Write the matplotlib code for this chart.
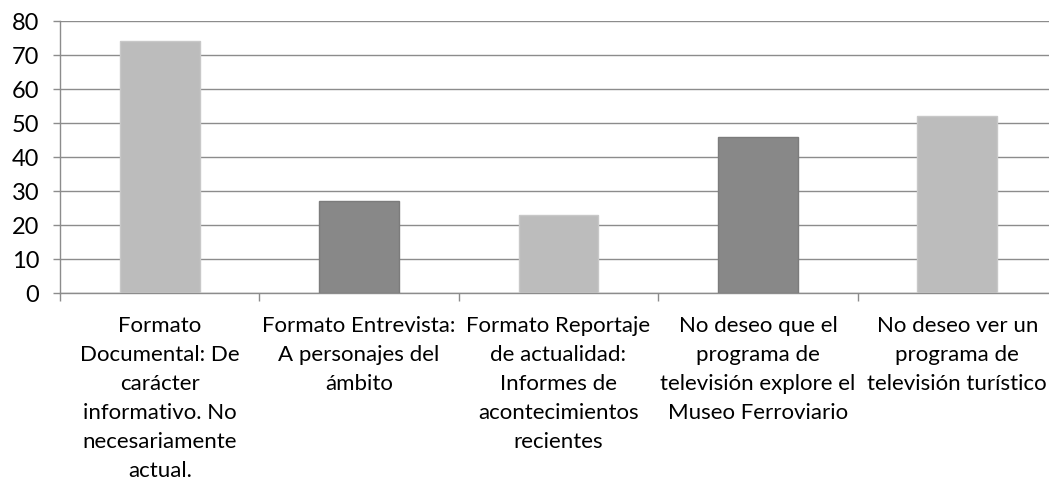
import matplotlib
matplotlib.use("Agg")
import matplotlib.pyplot as plt
import numpy as np

categories = [
    "Formato\nDocumental: De\ncarácter\ninformativo. No\nnecesariamente\nactual.",
    "Formato Entrevista:\nA personajes del\námbito",
    "Formato Reportaje\nde actualidad:\nInformes de\nacontecimientos\nrecientes",
    "No deseo que el\nprograma de\ntelevisión explore el\nMuseo Ferroviario",
    "No deseo ver un\nprograma de\ntelevisión turístico",
]
values = [74, 27, 23, 46, 52]
colors = ["#bcbcbc", "#888888", "#bcbcbc", "#888888", "#bcbcbc"]
edges = ["#c8c8c8", "#7c7c7c", "#c8c8c8", "#7c7c7c", "#c8c8c8"]
yticks = [0, 10, 20, 30, 40, 50, 60, 70, 80]

plt.rcParams['font.family'] = ['Lato', 'DejaVu Sans']

W, H = 1049, 481
fig = plt.figure(figsize=(W / 100, H / 100), dpi=100)
x0, x1, ytop, ybot = 60, 1057, 22, 294
ax = fig.add_axes([x0 / W, (H - ybot) / H, (x1 - x0) / W, (ybot - ytop) / H])

x = np.arange(len(values))
ax.bar(x, values, width=0.4, color=colors, edgecolor=edges, linewidth=1, zorder=3)

ax.set_xlim(-0.5, len(values) - 0.5)
ax.set_ylim(0, 80)
ax.set_yticks(yticks)
ax.set_yticklabels([str(v) for v in yticks], fontsize=17)
ax.yaxis.grid(True, color="#8c8c8c", linewidth=1, zorder=0)
ax.tick_params(axis='y', length=5, color="#8c8c8c", width=1, pad=10)

ax.set_xticks(x)
ax.set_xticklabels(categories, fontsize=16, linespacing=1.56, va='top')
ax.tick_params(axis='x', which='major', length=0, pad=16)
ax.set_xticks(np.arange(-0.5, len(values)), minor=True)
ax.tick_params(axis='x', which='minor', length=6, color="#8c8c8c", width=1)

for s in ['top', 'right']:
    ax.spines[s].set_visible(False)
for s in ['left', 'bottom']:
    ax.spines[s].set_color("#8c8c8c")
    ax.spines[s].set_linewidth(1)

fig.savefig("out.png", dpi=100)
